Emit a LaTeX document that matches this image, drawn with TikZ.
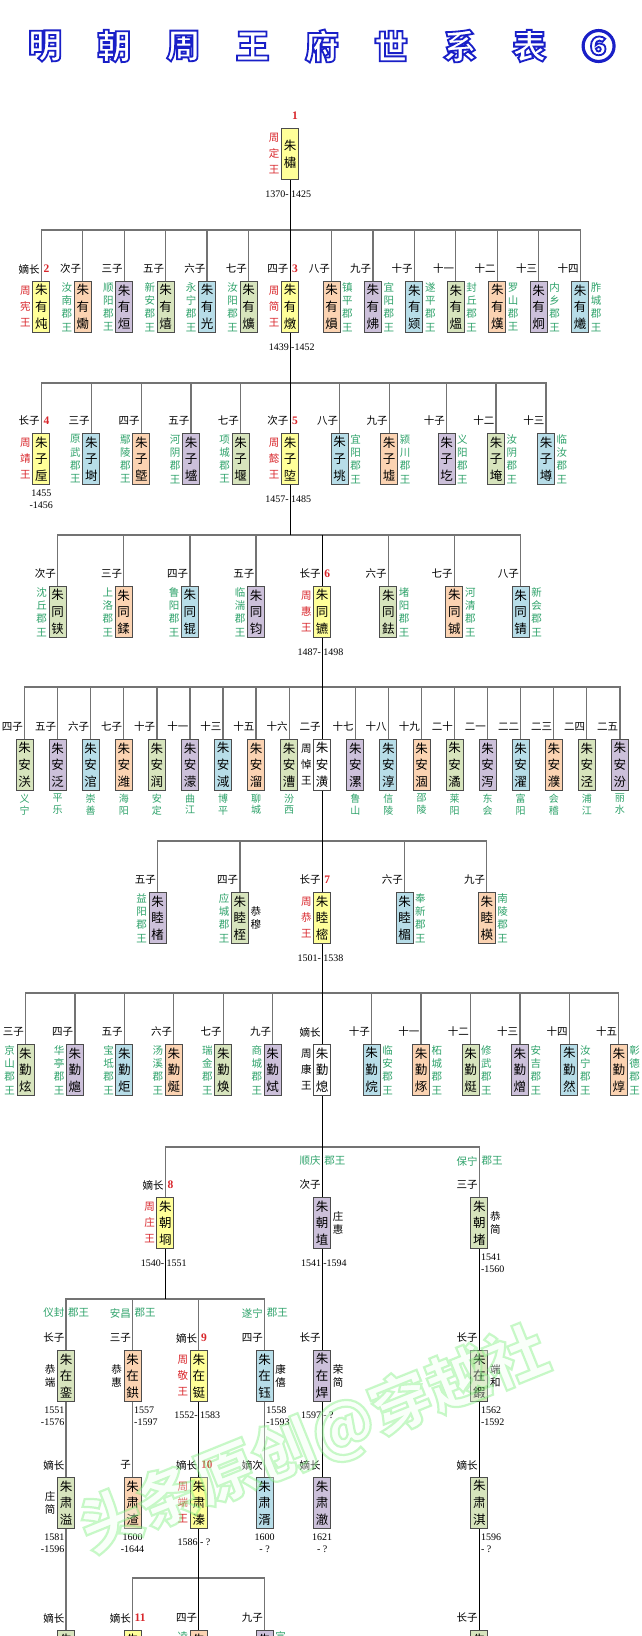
\documentclass[tikz,border=0pt]{standalone}
\usepackage{fontspec}
\setmainfont{Liberation Serif}
\newfontfamily\cjk{Noto Sans CJK SC}
\usetikzlibrary{calc}
\definecolor{cy}{HTML}{FFFF99}
\definecolor{co}{HTML}{FBD3B2}
\definecolor{cp}{HTML}{CCC0DA}
\definecolor{cg}{HTML}{D7E4BD}
\definecolor{cb}{HTML}{B7DDE8}
\definecolor{cw}{HTML}{FFFFFF}
\definecolor{rd}{HTML}{D9262B}
\definecolor{gn}{HTML}{2FA36B}
\definecolor{wmf}{HTML}{F0FFF0}
\tikzset{
 box/.style={draw=black!70, line width=0.9pt, minimum width=17pt, minimum height=51pt, inner sep=0pt, anchor=north, align=center, font=\cjk\fontsize{12.5}{16.7}\selectfont},
 lab/.style={inner sep=0pt, font=\cjk\fontsize{10.5}{12}\selectfont},
 num/.style={inner sep=0pt, text=rd, font=\bfseries\fontsize{11.5}{12}\selectfont},
 sd/.style={inner sep=0pt, align=center, font=\cjk\fontsize{10.5}{13.3}\selectfont},
 sdt/.style={inner sep=0pt, align=center, font=\cjk\fontsize{10.5}{16}\selectfont},
 sdw/.style={inner sep=0pt, align=center, font=\cjk\fontsize{10.5}{13}\selectfont},
 bot/.style={inner sep=0pt, align=center, text=gn, anchor=north, font=\cjk\fontsize{10}{11.5}\selectfont},
 dt/.style={inner sep=0pt, font=\fontsize{10}{12}\selectfont},
 ln/.style={draw=black!55, line width=1.3pt},
 tr/.style={draw=black, line width=0.8pt},
 ttl/.style={inner sep=0pt, font=\cjk\bfseries\fontsize{34}{36}\selectfont},
}
% outlined text: fill with the node's text colour, stroke with the given colour
\newcommand\outl[3]{\special{pdf:literal 2 Tr #1 w #2 RG}#3\special{pdf:literal 0 Tr}}
\newcommand\kid[7]{%
 \node[box,fill=#4] (#1) at (#2,#3) {#5};
 \node[lab,anchor=east] (#1-l) at ($(#1.north)+(-1.5,-12)$) {#6};
 \ifx&#7&\else\node[num,anchor=west] (#1-n) at ($(#1.north)+(2,-12)$) {#7};\fi}
\newcommand\sideL[4]{\node[#2,text=#3,anchor=east] (#1-s) at ($(#1.west)+(-1.5,0)$) {#4};}
\newcommand\sideR[4]{\node[#2,text=#3,anchor=west] (#1-r) at ($(#1.east)+(1.5,0)$) {#4};}
\newcommand\dsplit[4]{%
 \node[dt,anchor=east] (#1-da) at ($(#1.south)+(-1,#2)$) {#3};
 \node[dt,anchor=west] (#1-db) at ($(#1.south)+(1,#2)$) {#4};}
\newcommand\dtwo[5]{%
 \node[dt,anchor=#2] (#1-da) at ($(#1.south)+(#3,8)$) {#4};
 \node[dt,anchor=#2] (#1-db) at ($(#1.south)+(#3,20)$) {#5};}
\newcommand\famtree[3]{%
 \coordinate (#1-bar) at (#1.south |- 0,#2);
 \foreach \ch in {#3}{\draw[ln] (#1-bar) -| (\ch.north);}
 \draw[tr] (#1.south) -- (#1-bar);}
\begin{document}
\begin{tikzpicture}[x=1pt,y=-1pt]
\useasboundingbox (0,0) rectangle (641,1636);
\fill[white] (0,0) rectangle (641,1636);
\clip (0,0) rectangle (641,1636);
% title
\foreach \c [count=\i] in {明,朝,周,王,府,世,系,表,⑥}{
 \pgfmathsetmacro\tx{45+69.2*(\i-1)}
 \node[ttl,text=white] (t\i) at (\tx,46) {\outl{1.8}{0.1 0.12 0.78}{\c}};
}
% root
\node[box,fill=cy] (root) at (290,128) {朱\\橚};
\node[num,anchor=west] (root-n) at ($(root.north)+(2,-12)$) {1};
\sideL{root}{sdt}{rd}{周\\定\\王}
\dsplit{root}{14}{1370-}{1425}
% row 1
\kid{c1}{41.3}{281}{cy}{朱\\有\\炖}{嫡长}{2}\sideL{c1}{sdt}{rd}{周\\宪\\王}
\kid{c2}{82.8}{281}{co}{朱\\有\\爋}{次子}{}\sideL{c2}{sd}{gn}{汝\\南\\郡\\王}
\kid{c3}{124.2}{281}{cp}{朱\\有\\烜}{三子}{}\sideL{c3}{sd}{gn}{顺\\阳\\郡\\王}
\kid{c4}{165.7}{281}{cg}{朱\\有\\熺}{五子}{}\sideL{c4}{sd}{gn}{新\\安\\郡\\王}
\kid{c5}{207.1}{281}{cb}{朱\\有\\光}{六子}{}\sideL{c5}{sd}{gn}{永\\宁\\郡\\王}
\kid{c6}{248.6}{281}{cg}{朱\\有\\爌}{七子}{}\sideL{c6}{sd}{gn}{汝\\阳\\郡\\王}
\kid{c7}{290}{281}{cy}{朱\\有\\燉}{四子}{3}\sideL{c7}{sdt}{rd}{周\\简\\王}
\kid{c8}{331.5}{281}{co}{朱\\有\\熉}{八子}{}\sideR{c8}{sd}{gn}{镇\\平\\郡\\王}
\kid{c9}{372.9}{281}{cp}{朱\\有\\炥}{九子}{}\sideR{c9}{sd}{gn}{宜\\阳\\郡\\王}
\kid{c10}{414.4}{281}{cb}{朱\\有\\颎}{十子}{}\sideR{c10}{sd}{gn}{遂\\平\\郡\\王}
\kid{c11}{455.8}{281}{cg}{朱\\有\\熅}{十一}{}\sideR{c11}{sd}{gn}{封\\丘\\郡\\王}
\kid{c12}{497.3}{281}{co}{朱\\有\\熯}{十二}{}\sideR{c12}{sd}{gn}{罗\\山\\郡\\王}
\kid{c13}{538.7}{281}{cp}{朱\\有\\炯}{十三}{}\sideR{c13}{sd}{gn}{内\\乡\\郡\\王}
\kid{c14}{580.2}{281}{cb}{朱\\有\\爔}{十四}{}\sideR{c14}{sd}{gn}{胙\\城\\郡\\王}
\dsplit{c7}{14}{1439}{-1452}
\famtree{root}{230}{c1,c2,c3,c4,c5,c6,c8,c9,c10,c11,c12,c13,c14}
\draw[tr] (root-bar) -- (c7.north);
% row 2
\kid{d1}{41.3}{433}{cy}{朱\\子\\垕}{长子}{4}\sideL{d1}{sdt}{rd}{周\\靖\\王}
\kid{d2}{91.3}{433}{cb}{朱\\子\\埘}{三子}{}\sideL{d2}{sd}{gn}{原\\武\\郡\\王}
\kid{d3}{141.3}{433}{co}{朱\\子\\墍}{四子}{}\sideL{d3}{sd}{gn}{鄢\\陵\\郡\\王}
\kid{d4}{191}{433}{cp}{朱\\子\\墭}{五子}{}\sideL{d4}{sd}{gn}{河\\阴\\郡\\王}
\kid{d5}{240.5}{433}{cg}{朱\\子\\堰}{七子}{}\sideL{d5}{sd}{gn}{项\\城\\郡\\王}
\kid{d6}{290}{433}{cy}{朱\\子\\埅}{次子}{5}\sideL{d6}{sdt}{rd}{周\\懿\\王}
\kid{d7}{339.7}{433}{cb}{朱\\子\\垗}{八子}{}\sideR{d7}{sd}{gn}{宜\\阳\\郡\\王}
\kid{d8}{389.2}{433}{co}{朱\\子\\墟}{九子}{}\sideR{d8}{sd}{gn}{颍\\川\\郡\\王}
\kid{d9}{446.5}{433}{cp}{朱\\子\\圪}{十子}{}\sideR{d9}{sd}{gn}{义\\阳\\郡\\王}
\kid{d10}{496}{433}{cg}{朱\\子\\埯}{十二}{}\sideR{d10}{sd}{gn}{汝\\阴\\郡\\王}
\kid{d11}{546}{433}{cb}{朱\\子\\墫}{十三}{}\sideR{d11}{sd}{gn}{临\\汝\\郡\\王}
\dtwo{d1}{center}{0}{1455}{-1456}
\dsplit{d6}{14}{1457-}{1485}
\famtree{c7}{383}{d1,d2,d3,d4,d5,d7,d8,d9,d10,d11}
\draw[tr] (c7-bar) -- (d6.north);
% row 3
\kid{e1}{57.6}{586}{cg}{朱\\同\\铗}{次子}{}\sideL{e1}{sd}{gn}{沈\\丘\\郡\\王}
\kid{e2}{123.7}{586}{co}{朱\\同\\鍒}{三子}{}\sideL{e2}{sd}{gn}{上\\洛\\郡\\王}
\kid{e3}{189.9}{586}{cb}{朱\\同\\锟}{四子}{}\sideL{e3}{sd}{gn}{鲁\\阳\\郡\\王}
\kid{e4}{256}{586}{cp}{朱\\同\\钧}{五子}{}\sideL{e4}{sd}{gn}{临\\湍\\郡\\王}
\kid{e5}{322.2}{586}{cy}{朱\\同\\镳}{长子}{6}\sideL{e5}{sdt}{rd}{周\\惠\\王}
\kid{e6}{388.3}{586}{cg}{朱\\同\\鉣}{六子}{}\sideR{e6}{sd}{gn}{堵\\阳\\郡\\王}
\kid{e7}{454.4}{586}{co}{朱\\同\\铖}{七子}{}\sideR{e7}{sd}{gn}{河\\清\\郡\\王}
\kid{e8}{520.6}{586}{cb}{朱\\同\\锖}{八子}{}\sideR{e8}{sd}{gn}{新\\会\\郡\\王}
\dsplit{e5}{14}{1487-}{1498}
\famtree{d6}{535}{e1,e2,e3,e4,e5,e6,e7,e8}
\draw[tr] (e5.north |- d6-bar) -- (e5.north);
% row 4
\kid{f1}{24.6}{739}{cg}{朱\\安\\浂}{四子}{}\node[bot] (f1-b) at ($(f1.south)+(0,3)$) {义\\宁};
\kid{f2}{57.7}{739}{cp}{朱\\安\\泛}{五子}{}\node[bot] (f2-b) at ($(f2.south)+(0,3)$) {平\\乐};
\kid{f3}{90.7}{739}{cb}{朱\\安\\涫}{六子}{}\node[bot] (f3-b) at ($(f3.south)+(0,3)$) {崇\\善};
\kid{f4}{123.8}{739}{co}{朱\\安\\潍}{七子}{}\node[bot] (f4-b) at ($(f4.south)+(0,3)$) {海\\阳};
\kid{f5}{156.9}{739}{cg}{朱\\安\\润}{十子}{}\node[bot] (f5-b) at ($(f5.south)+(0,3)$) {安\\定};
\kid{f6}{190}{739}{cp}{朱\\安\\濛}{十一}{}\node[bot] (f6-b) at ($(f6.south)+(0,3)$) {曲\\江};
\kid{f7}{223}{739}{cb}{朱\\安\\淢}{十三}{}\node[bot] (f7-b) at ($(f7.south)+(0,3)$) {博\\平};
\kid{f8}{256.1}{739}{co}{朱\\安\\溜}{十五}{}\node[bot] (f8-b) at ($(f8.south)+(0,3)$) {聊\\城};
\kid{f9}{289.2}{739}{cg}{朱\\安\\漕}{十六}{}\node[bot] (f9-b) at ($(f9.south)+(0,3)$) {汾\\西};
\kid{f10}{322.2}{739}{cw}{朱\\安\\潢}{二子}{}\sideL{f10}{sdt}{black}{周\\悼\\王}
\kid{f11}{355.3}{739}{cp}{朱\\安\\漯}{十七}{}\node[bot] (f11-b) at ($(f11.south)+(0,3)$) {鲁\\山};
\kid{f12}{388.4}{739}{cb}{朱\\安\\淳}{十八}{}\node[bot] (f12-b) at ($(f12.south)+(0,3)$) {信\\陵};
\kid{f13}{421.5}{739}{co}{朱\\安\\涸}{十九}{}\node[bot] (f13-b) at ($(f13.south)+(0,3)$) {邵\\陵};
\kid{f14}{454.5}{739}{cg}{朱\\安\\潏}{二十}{}\node[bot] (f14-b) at ($(f14.south)+(0,3)$) {莱\\阳};
\kid{f15}{487.6}{739}{cp}{朱\\安\\泻}{二一}{}\node[bot] (f15-b) at ($(f15.south)+(0,3)$) {东\\会};
\kid{f16}{520.7}{739}{cb}{朱\\安\\濯}{二二}{}\node[bot] (f16-b) at ($(f16.south)+(0,3)$) {富\\阳};
\kid{f17}{553.8}{739}{co}{朱\\安\\濮}{二三}{}\node[bot] (f17-b) at ($(f17.south)+(0,3)$) {会\\稽};
\kid{f18}{586.8}{739}{cg}{朱\\安\\泾}{二四}{}\node[bot] (f18-b) at ($(f18.south)+(0,3)$) {浦\\江};
\kid{f19}{619.9}{739}{cp}{朱\\安\\汾}{二五}{}\node[bot] (f19-b) at ($(f19.south)+(0,3)$) {丽\\水};
\famtree{e5}{687}{f1,f2,f3,f4,f5,f6,f7,f8,f9,f11,f12,f13,f14,f15,f16,f17,f18,f19}
\draw[tr] (e5-bar) -- (f10.north);
% row 5
\kid{g1}{157.6}{892}{cp}{朱\\睦\\楮}{五子}{}\sideL{g1}{sd}{gn}{益\\阳\\郡\\王}
\kid{g2}{239.9}{892}{cg}{朱\\睦\\桎}{四子}{}\sideL{g2}{sd}{gn}{应\\城\\郡\\王}\sideR{g2}{sdw}{black}{恭\\穆}
\kid{g3}{322.2}{892}{cy}{朱\\睦\\樒}{长子}{7}\sideL{g3}{sdt}{rd}{周\\恭\\王}
\kid{g4}{404.5}{892}{cb}{朱\\睦\\楣}{六子}{}\sideR{g4}{sd}{gn}{奉\\新\\郡\\王}
\kid{g5}{486.8}{892}{co}{朱\\睦\\楧}{九子}{}\sideR{g5}{sd}{gn}{南\\陵\\郡\\王}
\dsplit{g3}{14}{1501-}{1538}
\famtree{f10}{841}{g1,g2,g4,g5}
\draw[tr] (f10-bar) -- (g3.north);
% row 6
\kid{h1}{25.5}{1044}{cg}{朱\\勤\\炫}{三子}{}\sideL{h1}{sd}{gn}{京\\山\\郡\\王}
\kid{h2}{74.9}{1044}{cp}{朱\\勤\\熩}{四子}{}\sideL{h2}{sd}{gn}{华\\亭\\郡\\王}
\kid{h3}{124.4}{1044}{cb}{朱\\勤\\炬}{五子}{}\sideL{h3}{sd}{gn}{宝\\坻\\郡\\王}
\kid{h4}{173.8}{1044}{co}{朱\\勤\\烻}{六子}{}\sideL{h4}{sd}{gn}{汤\\溪\\郡\\王}
\kid{h5}{223.3}{1044}{cg}{朱\\勤\\焕}{七子}{}\sideL{h5}{sd}{gn}{瑞\\金\\郡\\王}
\kid{h6}{272.7}{1044}{cp}{朱\\勤\\烒}{九子}{}\sideL{h6}{sd}{gn}{商\\城\\郡\\王}
\kid{h7}{322.2}{1044}{cw}{朱\\勤\\熄}{嫡长}{}\sideL{h7}{sdt}{black}{周\\康\\王}
\kid{h8}{371.6}{1044}{cb}{朱\\勤\\烷}{十子}{}\sideR{h8}{sd}{gn}{临\\安\\郡\\王}
\kid{h9}{421}{1044}{co}{朱\\勤\\烼}{十一}{}\sideR{h9}{sd}{gn}{柘\\城\\郡\\王}
\kid{h10}{470.5}{1044}{cg}{朱\\勤\\烶}{十二}{}\sideR{h10}{sd}{gn}{修\\武\\郡\\王}
\kid{h11}{519.9}{1044}{cp}{朱\\勤\\熷}{十三}{}\sideR{h11}{sd}{gn}{安\\吉\\郡\\王}
\kid{h12}{569.4}{1044}{cb}{朱\\勤\\然}{十四}{}\sideR{h12}{sd}{gn}{汝\\宁\\郡\\王}
\kid{h13}{618.8}{1044}{co}{朱\\勤\\焞}{十五}{}\sideR{h13}{sd}{gn}{彰\\德\\郡\\王}
\famtree{g3}{993}{h1,h2,h3,h4,h5,h6,h8,h9,h10,h11,h12,h13}
\draw[tr] (g3-bar) -- (h7.north);
% row 7
\kid{i1}{165.4}{1197}{cy}{朱\\朝\\埛}{嫡长}{8}\sideL{i1}{sdt}{rd}{周\\庄\\王}
\kid{i2}{322.2}{1197}{cp}{朱\\朝\\埴}{次子}{}\sideR{i2}{sdw}{black}{庄\\惠}
\kid{i3}{479.4}{1197}{cg}{朱\\朝\\堵}{三子}{}\sideR{i3}{sdw}{black}{恭\\简}
\node[lab,text=gn,anchor=east] (i2-ga) at ($(i2.north)+(-1.5,-36)$) {顺庆};
\node[lab,text=gn,anchor=west] (i2-gb) at ($(i2.north)+(2,-36)$) {郡王};
\node[lab,text=gn,anchor=east] (i3-ga) at ($(i3.north)+(-1.5,-36)$) {保宁};
\node[lab,text=gn,anchor=west] (i3-gb) at ($(i3.north)+(2,-36)$) {郡王};
\dsplit{i1}{14}{1540-}{1551}
\dsplit{i2}{14}{1541}{-1594}
\dtwo{i3}{west}{1.5}{1541}{-1560}
\famtree{h7}{1147}{i1,i3}
\draw[tr] (h7-bar) -- (i2.north);
% row 8
\kid{j1}{66}{1350}{cg}{朱\\在\\銮}{长子}{}\sideL{j1}{sdw}{black}{恭\\端}
\kid{j2}{132.5}{1350}{co}{朱\\在\\鉷}{三子}{}\sideL{j2}{sdw}{black}{恭\\惠}
\kid{j3}{198.8}{1350}{cy}{朱\\在\\铤}{嫡长}{9}\sideL{j3}{sdt}{rd}{周\\敬\\王}
\kid{j4}{264.6}{1350}{cb}{朱\\在\\钰}{四子}{}\sideR{j4}{sdw}{black}{康\\僖}
\kid{j5}{322.2}{1350}{cp}{朱\\在\\焊}{长子}{}\sideR{j5}{sdw}{black}{荣\\简}
\kid{j6}{479.4}{1350}{cg}{朱\\在\\鍜}{长子}{}\sideR{j6}{sdw}{black}{端\\和}
\node[lab,text=gn,anchor=east] (j1-ga) at ($(j1.north)+(-1.5,-37)$) {仪封};
\node[lab,text=gn,anchor=west] (j1-gb) at ($(j1.north)+(2,-37)$) {郡王};
\node[lab,text=gn,anchor=east] (j2-ga) at ($(j2.north)+(-1.5,-37)$) {安昌};
\node[lab,text=gn,anchor=west] (j2-gb) at ($(j2.north)+(2,-37)$) {郡王};
\node[lab,text=gn,anchor=east] (j4-ga) at ($(j4.north)+(-1.5,-37)$) {遂宁};
\node[lab,text=gn,anchor=west] (j4-gb) at ($(j4.north)+(2,-37)$) {郡王};
\dtwo{j1}{east}{-1.5}{1551}{-1576}
\dtwo{j2}{west}{1.5}{1557}{-1597}
\dsplit{j3}{13}{1552-}{1583}
\dtwo{j4}{west}{1.5}{1558}{-1593}
\dsplit{j5}{13}{1597}{- ?}
\dtwo{j6}{west}{1.5}{1562}{-1592}
\famtree{i1}{1299}{j1,j2,j3,j4}
\draw[tr] (i2) -- (j5);
\draw[tr] (i3) -- (j6);
% row 9
\kid{k1}{66}{1477}{cg}{朱\\肃\\溢}{嫡长}{}\sideL{k1}{sdw}{black}{庄\\简}
\kid{k2}{132.5}{1477}{co}{朱\\肃\\渣}{子}{}
\kid{k3}{198.8}{1477}{cy}{朱\\肃\\溱}{嫡长}{10}\sideL{k3}{sdt}{rd}{周\\端\\王}
\kid{k4}{264.6}{1477}{cb}{朱\\肃\\湑}{嫡次}{}
\kid{k5}{322.2}{1477}{cp}{朱\\肃\\澈}{嫡长}{}
\kid{k6}{479.4}{1477}{cg}{朱\\肃\\淇}{嫡长}{}
\dtwo{k1}{east}{-1.5}{1581}{-1596}
\dtwo{k2}{center}{0}{1600}{-1644}
\dsplit{k3}{13}{1586}{- ?}
\dtwo{k4}{center}{0}{1600}{- ?}
\dtwo{k5}{center}{0}{1621}{- ?}
\dtwo{k6}{west}{1.5}{1596}{- ?}
\draw[ln] (j1) -- (k1);
\draw[ln] (j2) -- (k2);
\draw[tr] (j3) -- (k3);
\draw[ln] (j4) -- (k4);
\draw[tr] (j5) -- (k5);
\draw[tr] (j6) -- (k6);
% row 10
\kid{l1}{66}{1630}{cg}{朱\\\mbox{}\\\mbox{}}{嫡长}{}
\kid{l2}{132.5}{1630}{cy}{朱\\\mbox{}\\\mbox{}}{嫡长}{11}
\kid{l3}{198.8}{1630}{co}{朱\\\mbox{}\\\mbox{}}{四子}{}\sideL{l3}{sd}{gn}{凌\\\mbox{}\\\mbox{}\\\mbox{}}
\kid{l4}{264.6}{1630}{cp}{朱\\\mbox{}\\\mbox{}}{九子}{}\sideR{l4}{sd}{gn}{宣\\\mbox{}\\\mbox{}\\\mbox{}}
\kid{l5}{479.4}{1630}{cg}{朱\\\mbox{}\\\mbox{}}{长子}{}
\draw[ln] (k1) -- (l1);
\famtree{k3}{1578}{l2,l4}
\draw[tr] (k3-bar) -- (l3.north);
\draw[tr] (k6) -- (l5);
% watermark
\node[rotate=22, text=wmf, fill opacity=0.35, draw opacity=0.95, text opacity=0.35, inner sep=0pt, font=\cjk\bfseries\fontsize{62}{64}\selectfont] (wmark) at (314,1440) {\outl{2.2}{0.4 0.93 0.4}{头条原创@穿越社}};
\end{tikzpicture}
\end{document}
